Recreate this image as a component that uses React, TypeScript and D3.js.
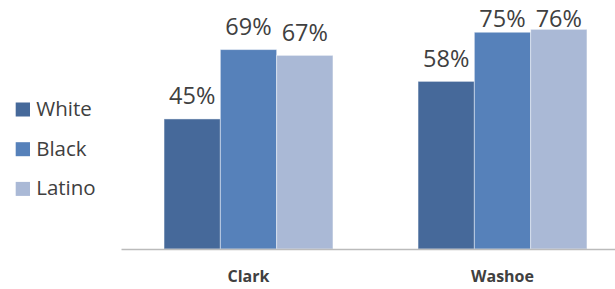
import React from "react";
import * as d3 from "d3";

const counties = ["Clark", "Washoe"];
const groups = ["White", "Black", "Latino"];
const whiteValues = [45, 58];
const blackValues = [69, 75];
const latinoValues = [67, 76];
const colors = ["#46699A", "#5681BA", "#AAB9D6"];

const W = 615;
const H = 289;

export default function App() {
  const series = [whiteValues, blackValues, latinoValues];
  const x0 = d3.scaleBand<string>().domain(counties).range([121.5, 629.5]).paddingInner(0.335).paddingOuter(0.1675);
  const x1 = d3.scaleBand<string>().domain(groups).range([0, x0.bandwidth()]);
  const y = d3.scaleLinear().domain([0, 100]).range([249, -40]);
  const font = "'Open Sans', 'Segoe UI', sans-serif";

  return (
    <svg width={W} height={H} style={{ position: "absolute", left: 0, top: 0, background: "#fff" }}>
      {counties.map((c, ci) => (
        <g key={c} transform={`translate(${x0(c)},0)`}>
          {groups.map((g, gi) => {
            const v = series[gi][ci];
            const bx = x1(g)!;
            return (
              <g key={g}>
                <rect
                  x={bx}
                  y={y(v)}
                  width={x1.bandwidth()}
                  height={y(0) - y(v)}
                  fill={colors[gi]}
                  stroke="#ffffff"
                  strokeOpacity={0.45}
                  strokeWidth={1}
                />
                <text
                  x={bx + x1.bandwidth() / 2}
                  y={Math.max(y(v) - 14.5, 27)}
                  textAnchor="middle"
                  fontFamily={font}
                  fontSize={23.5}
                  fill="#404040"
                >
                  {v}%
                </text>
              </g>
            );
          })}
          <text
            x={x0.bandwidth() / 2}
            y={282}
            textAnchor="middle"
            fontFamily={font}
            fontWeight="bold"
            fontSize={16}
            fill="#404040"
          >
            {c}
          </text>
        </g>
      ))}
      <line x1={121.5} x2={629.5} y1={249.5} y2={249.5} stroke="#BBBBBB" strokeWidth={1.5} />
      {groups.map((g, gi) => (
        <g key={g} transform={`translate(15.7,${102.5 + gi * 39.7})`}>
          <rect x={0} y={0} width={14.3} height={14} fill={colors[gi]} />
          <text x={20.5} y={13.3} fontFamily={font} fontSize={20.5} fill="#404040">
            {g}
          </text>
        </g>
      ))}
    </svg>
  );
}
